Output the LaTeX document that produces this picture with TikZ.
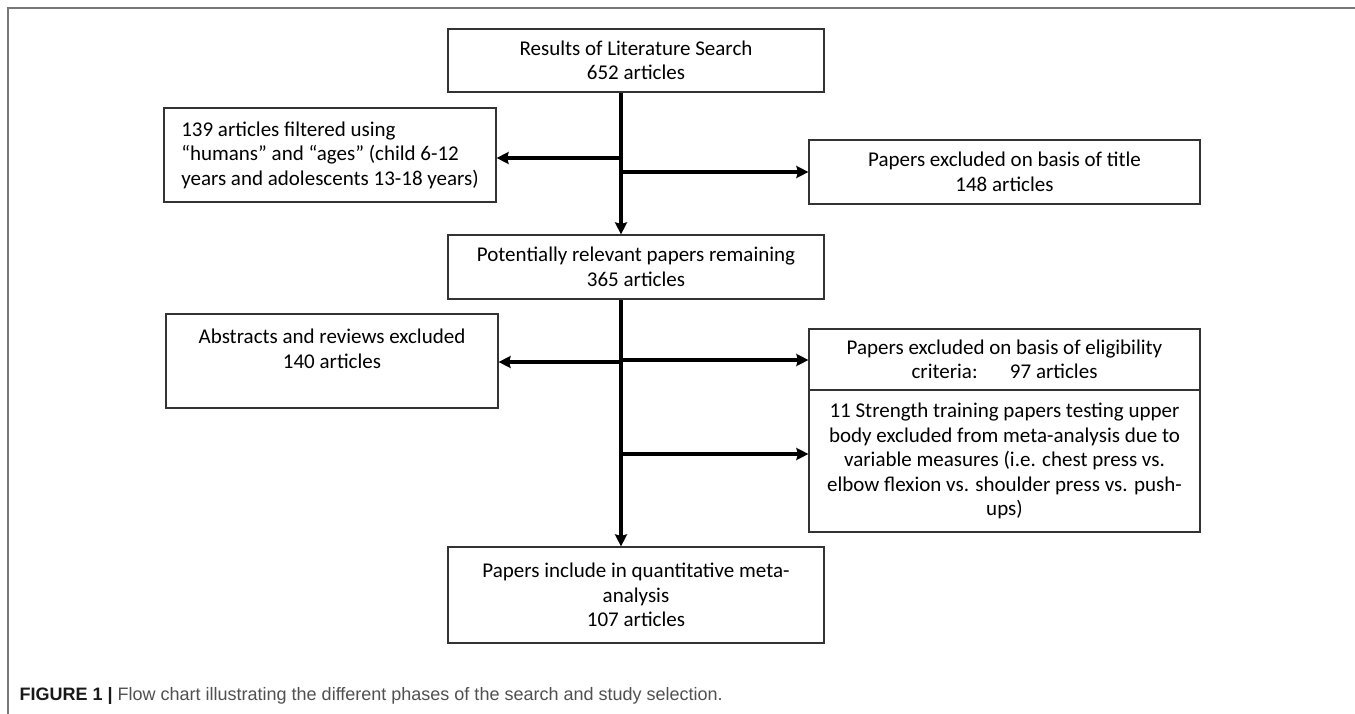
\documentclass[tikz,border=0pt]{standalone}
\usepackage{fontspec}
\setmainfont{Carlito}
\newfontfamily\capfont{Liberation Sans}
\usetikzlibrary{arrows.meta}
\definecolor{capgray}{RGB}{80,80,80}
\definecolor{framegray}{RGB}{120,120,120}

\begin{document}
\begin{tikzpicture}[x=1pt,y=-1pt,->,>={Stealth[length=12pt,width=12pt,inset=1.5pt]},
  line width=3.3pt,
  main node/.style={rectangle,draw=black!80,line width=1.2pt,inner sep=0pt,
    align=center,font=\fontsize{21}{24.5}\selectfont}]

  \useasboundingbox (0,0) rectangle (1355,714);
  \draw[-,framegray,line width=1.5pt] (8,714) -- (8,8) -- (1355,8);

  \node[main node,minimum width=376pt,minimum height=63pt] (1) at (636,60.5)
    {Results of Literature Search\\652 articles};
  \node[main node,minimum width=332pt,minimum height=94pt,align=left] (2) at (330,155)
    {139 articles filtered using\\“humans” and “ages” (child 6-12\\years and adolescents 13-18 years)};
  \node[main node,minimum width=391pt,minimum height=64pt] (3) at (1004.5,172)
    {Papers excluded on basis of title\\148 articles};
  \node[main node,minimum width=376pt,minimum height=64pt] (4) at (636,267)
    {Potentially relevant papers remaining\\365 articles};
  \node[main node,minimum width=332pt,minimum height=94pt] (5) at (332,361)
    {Abstracts and reviews excluded\\140 articles\\\mbox{}};
  \node[main node,minimum width=391pt,minimum height=61pt] (6) at (1004.5,359.5)
    {Papers excluded on basis of eligibility\\criteria:\hspace{26pt} 97 articles};
  \node[main node,minimum width=391pt,minimum height=142pt] (7) at (1004.5,461)
    {11 Strength training papers testing upper\\body excluded from meta-analysis due to\\variable measures (i.e. chest press vs.\\elbow flexion vs. shoulder press vs. push-\\ups)};
  \node[main node,minimum width=376pt,minimum height=96pt] (8) at (636,595)
    {Papers include in quantitative meta-\\analysis\\107 articles};

  \node[anchor=west,inner sep=0pt,text=capgray,font=\capfont\fontsize{18}{22}\selectfont] (cap) at (18,696)
    {\textcolor{black!90}{\bfseries FIGURE 1 |} Flow chart illustrating the different phases of the search and study selection.};

  % branch points on the trunk
  \coordinate (a) at (621,158);
  \coordinate (b) at (621,172);
  \coordinate (c) at (621,362);
  \coordinate (d) at (621,360);
  \coordinate (e) at (621,454);

  \path
    (1.south -| a) edge (4.north -| a)
    (a) edge (2.east |- a)
    (b) edge (3.west |- b)
    (4.south -| c) edge (8.north -| c)
    (c) edge (5.east |- c)
    (d) edge (6.west |- d)
    (e) edge (7.west |- e);
\end{tikzpicture}
\end{document}
